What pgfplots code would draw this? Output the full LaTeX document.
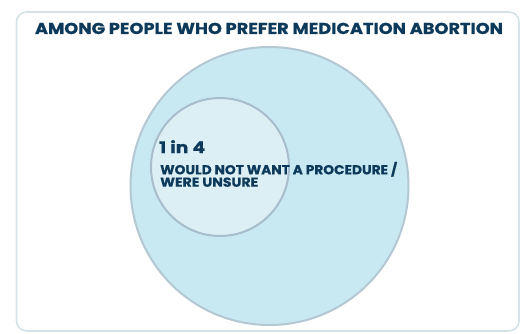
\documentclass[border=0pt]{standalone}
\usepackage{fontspec}
\setmainfont{Poppins}[BoldFeatures={FakeBold=0.6}]
\usepackage{graphicx}
\usepackage{pgfplots}
\pgfplotsset{compat=1.18}
\definecolor{navy}{HTML}{0D3A5A}
\definecolor{frameC}{HTML}{D5E2E8}
\definecolor{bigfill}{HTML}{C8E9F2}
\definecolor{bigdraw}{HTML}{B4C8D4}
\definecolor{smallfill}{HTML}{DCEFF5}
\definecolor{smalldraw}{HTML}{A8BDCB}
\begin{document}
\begin{tikzpicture}
\begin{axis}[width=525pt,height=333pt,scale only axis,xmin=0,xmax=525,ymin=0,ymax=333,y dir=reverse,hide axis,clip=false,set layers]
\path (rel axis cs:0,0) rectangle (rel axis cs:1,1);
\addplot[draw=frameC, line width=1.6pt, rounded corners=10pt, fill=white] coordinates {(16.5,12)(519,12)(519,331)(16.5,331)} -- cycle;
\addplot[only marks, mark=*, mark size=139pt, mark options={fill=bigfill, draw=bigdraw, line width=2pt}] coordinates {(269.5,186)};
\addplot[only marks, mark=*, mark size=69pt, mark options={fill=smallfill, draw=smalldraw, line width=2pt}] coordinates {(220,167)};
\begin{pgfonlayer}{axis foreground}
\node[anchor=base, text=navy, font=\bfseries\fontsize{15.8}{18}\selectfont, inner sep=0pt] at (axis cs:269,34) {\resizebox{468pt}{\height}{AMONG PEOPLE WHO PREFER MEDICATION ABORTION}};
\node[anchor=base west, text=navy, font=\bfseries\fontsize{16}{18}\selectfont, inner sep=0pt] at (axis cs:159,153) {\resizebox{46pt}{\height}{1 in 4}};
\node[anchor=base west, text=navy, font=\bfseries\fontsize{13}{13}\selectfont, inner sep=0pt] at (axis cs:160,174.3) {\resizebox{237pt}{\height}{WOULD NOT WANT A PROCEDURE /}};
\node[anchor=base west, text=navy, font=\bfseries\fontsize{13}{13}\selectfont, inner sep=0pt] at (axis cs:160,186.7) {\resizebox{98pt}{\height}{WERE UNSURE}};
\end{pgfonlayer}
\end{axis}
\end{tikzpicture}
\end{document}
